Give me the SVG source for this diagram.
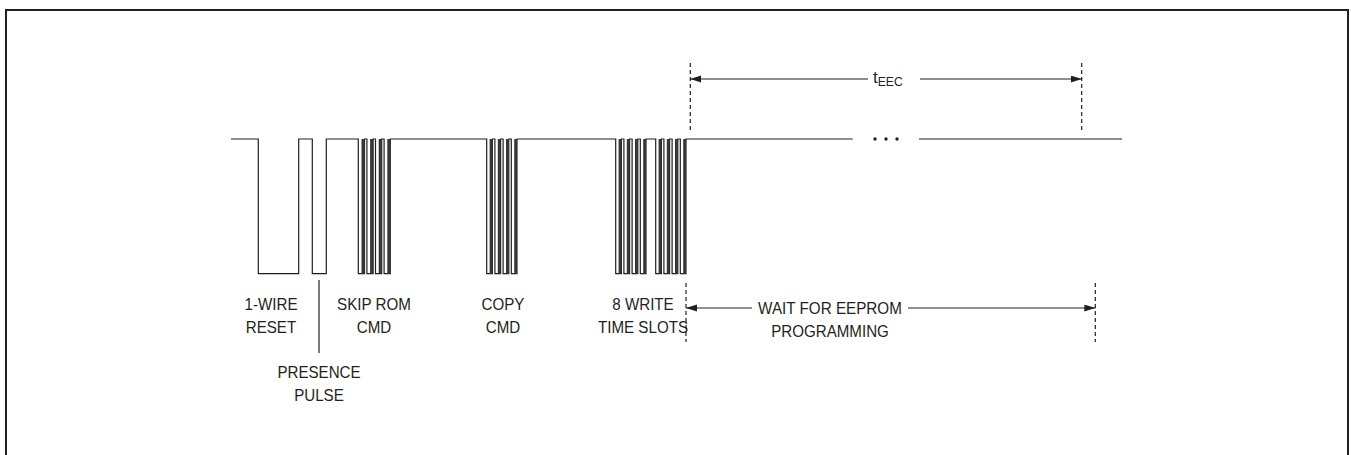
<svg xmlns="http://www.w3.org/2000/svg" width="1351" height="455" viewBox="0 0 1351 455">
<style>
.frame{fill:none;stroke:#231f20;stroke-width:2}
.wave{fill:none;stroke:#231f20;stroke-width:1.2}
.bar{fill:#3a3637}
.dash{fill:none;stroke:#231f20;stroke-width:1.2;stroke-dasharray:4 3}
.dim{fill:none;stroke:#231f20;stroke-width:1.2}
.lbl{font-family:"Liberation Sans",Arial,sans-serif;font-size:17px;fill:#231f20;text-anchor:middle}
.t{font-family:"Liberation Sans",Arial,sans-serif;fill:#231f20}
</style>
<defs>
<marker id="ah" markerUnits="userSpaceOnUse" markerWidth="12" markerHeight="8" refX="11" refY="3.5" orient="auto-start-reverse" viewBox="0 0 12 8">
<path d="M0,0 L11,3.5 L0,7 z" fill="#231f20"/>
</marker>
</defs>
<rect class="frame" x="6" y="10" width="1342" height="460"/>
<g id="waveform">
<path class="wave" d="M231,139 H258.3 V273.7 H298.7 V139 H312.3 V273.7 H326.3 V139 H358.3
V273.7 H364.5 V139 H366.9 V273.7 H373.1 V139 H375.5 V273.7 H381.7 V139 H384.1 V273.7 H390.3 V139
H486.7 V273.7 H492.4 V139 H494.9 V273.7 H500.6 V139 H503.1 V273.7 H508.8 V139 H511.3 V273.7 H517 V139
H615.7 V273.7 H621.4 V139 H623.9 V273.7 H629.6 V139 H632.1 V273.7 H637.8 V139 H640.3 V273.7 H646 V139
H655.7 V273.7 H661.4 V139 H663.9 V273.7 H669.6 V139 H672.1 V273.7 H677.8 V139 H680.3 V273.7 H686 V139 H852.7"/>
<path class="wave" d="M919,139 H1122"/>
<g class="bar">
<rect x="361.5" y="139" width="3" height="134.7"/><rect x="370.1" y="139" width="3" height="134.7"/><rect x="378.7" y="139" width="3" height="134.7"/><rect x="387.3" y="139" width="3" height="134.7"/>
<rect x="489.6" y="139" width="2.8" height="134.7"/><rect x="497.8" y="139" width="2.8" height="134.7"/><rect x="506" y="139" width="2.8" height="134.7"/><rect x="514.2" y="139" width="2.8" height="134.7"/>
<rect x="618.6" y="139" width="2.8" height="134.7"/><rect x="626.8" y="139" width="2.8" height="134.7"/><rect x="635" y="139" width="2.8" height="134.7"/><rect x="643.2" y="139" width="2.8" height="134.7"/>
<rect x="658.6" y="139" width="2.8" height="134.7"/><rect x="666.8" y="139" width="2.8" height="134.7"/><rect x="675" y="139" width="2.8" height="134.7"/><rect x="683.2" y="139" width="2.8" height="134.7"/>
</g>
<g fill="#231f20"><circle cx="875" cy="139" r="1.7"/><circle cx="886" cy="139" r="1.7"/><circle cx="897" cy="139" r="1.7"/></g>
</g>
<g id="connectors">
<line class="dash" x1="690.3" y1="63" x2="690.3" y2="132"/>
<line class="dash" x1="1081.7" y1="63" x2="1081.7" y2="132"/>
<line class="dash" x1="686" y1="283" x2="686" y2="342"/>
<line class="dash" x1="1095.3" y1="283" x2="1095.3" y2="342"/>
<line class="dim" x1="690.3" y1="79" x2="868" y2="79" marker-start="url(#ah)"/>
<line class="dim" x1="920" y1="79" x2="1081.7" y2="79" marker-end="url(#ah)"/>
<line class="dim" x1="686" y1="308" x2="752" y2="308" marker-start="url(#ah)"/>
<line class="dim" x1="908" y1="308" x2="1095.3" y2="308" marker-end="url(#ah)"/>
<line class="wave" x1="319" y1="280" x2="319" y2="353"/>
</g>
<g id="label-teec"><text class="t" x="873" y="83" font-size="17">t<tspan font-size="13" y="86" textLength="25" lengthAdjust="spacingAndGlyphs">EEC</tspan></text></g>
<g id="label-reset"><text class="lbl" x="271" y="310" textLength="53" lengthAdjust="spacingAndGlyphs">1-WIRE</text><text class="lbl" x="271" y="333" textLength="50.4" lengthAdjust="spacingAndGlyphs">RESET</text></g>
<g id="label-presence"><text class="lbl" x="319" y="378" textLength="83.2" lengthAdjust="spacingAndGlyphs">PRESENCE</text><text class="lbl" x="319" y="401" textLength="49.6" lengthAdjust="spacingAndGlyphs">PULSE</text></g>
<g id="label-skiprom"><text class="lbl" x="374" y="310" textLength="74" lengthAdjust="spacingAndGlyphs">SKIP ROM</text><text class="lbl" x="374" y="333" textLength="34.5" lengthAdjust="spacingAndGlyphs">CMD</text></g>
<g id="label-copy"><text class="lbl" x="503" y="310" textLength="42.9" lengthAdjust="spacingAndGlyphs">COPY</text><text class="lbl" x="503" y="333" textLength="34.5" lengthAdjust="spacingAndGlyphs">CMD</text></g>
<g id="label-write"><text class="lbl" x="643" y="310" textLength="61.4" lengthAdjust="spacingAndGlyphs">8 WRITE</text><text class="lbl" x="643" y="333" textLength="90" lengthAdjust="spacingAndGlyphs">TIME SLOTS</text></g>
<g id="label-wait"><text class="lbl" x="830" y="314" textLength="143.8" lengthAdjust="spacingAndGlyphs">WAIT FOR EEPROM</text><text class="lbl" x="830" y="337" textLength="117.7" lengthAdjust="spacingAndGlyphs">PROGRAMMING</text></g>
</svg>
